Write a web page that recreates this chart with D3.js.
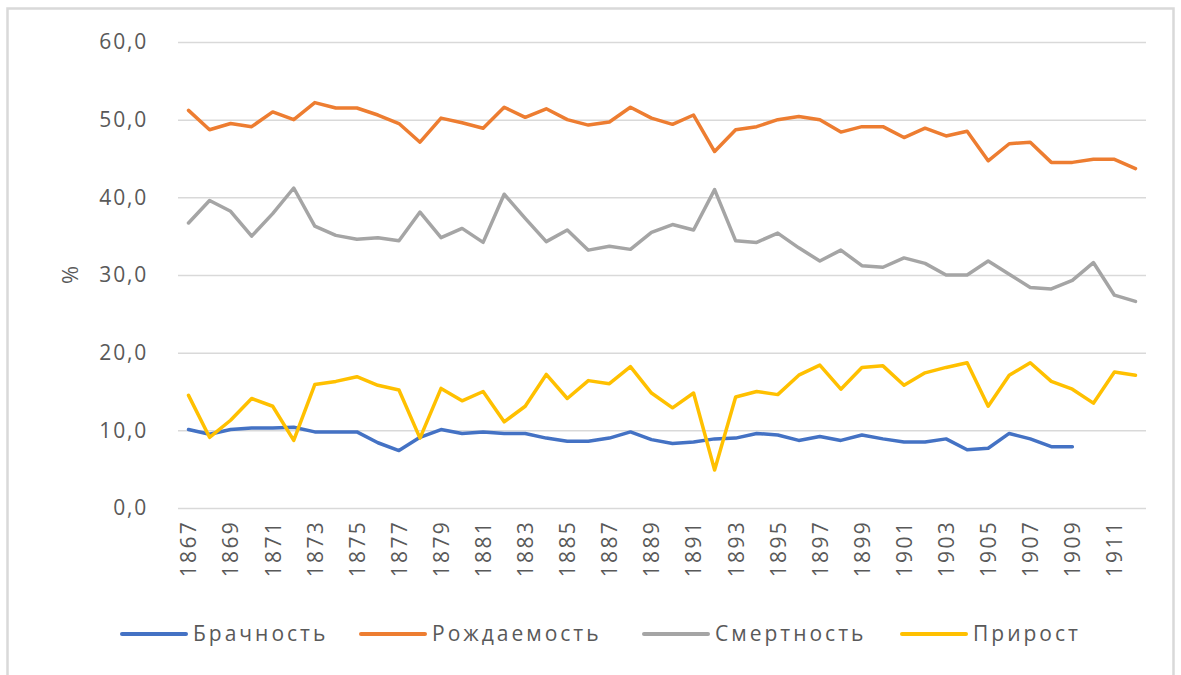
<!DOCTYPE html>
<html>
<head>
<meta charset="utf-8">
<script src="https://cdn.jsdelivr.net/npm/d3@7"></script>
<style>
    body { margin: 0; background: #fff; }
    svg text { font-family: "Open Sans", sans-serif; fill: #595959; }
</style>
</head>
<body>
<div id="chart"></div>
<script>
// годы 1867-1912
var years = d3.range(1867, 1913);

var brachnost = [10.1, 9.5, 10.1, 10.3, 10.3, 10.4, 9.8, 9.8, 9.8, 8.4,
    7.4, 9.1, 10.1, 9.6, 9.8, 9.6, 9.6, 9.0, 8.6, 8.6,
    9.0, 9.8, 8.8, 8.3, 8.5, 8.9, 9.0, 9.6, 9.4, 8.7,
    9.2, 8.7, 9.4, 8.9, 8.5, 8.5, 8.9, 7.5, 7.7, 9.6,
    8.9, 7.9, 7.9];

var rozhdaemost = [51.2, 48.7, 49.5, 49.1, 51.0, 50.0, 52.2, 51.5, 51.5, 50.6,
    49.5, 47.1, 50.2, 49.6, 48.9, 51.6, 50.3, 51.4, 50.0, 49.3,
    49.7, 51.6, 50.2, 49.4, 50.6, 45.9, 48.7, 49.1, 50.0, 50.4,
    50.0, 48.4, 49.1, 49.1, 47.7, 48.9, 47.9, 48.5, 44.7, 46.9,
    47.1, 44.5, 44.5, 44.9, 44.9, 43.7];

var smertnost = [36.7, 39.6, 38.2, 35.0, 37.9, 41.2, 36.3, 35.1, 34.6, 34.8,
    34.4, 38.1, 34.8, 36.0, 34.2, 40.4, 37.3, 34.3, 35.8, 33.2,
    33.7, 33.3, 35.5, 36.5, 35.8, 41.0, 34.4, 34.2, 35.4, 33.5,
    31.8, 33.2, 31.2, 31.0, 32.2, 31.5, 30.0, 30.0, 31.8, 30.1,
    28.4, 28.2, 29.3, 31.6, 27.4, 26.6];

var prirost = [14.5, 9.1, 11.3, 14.1, 13.1, 8.7, 15.9, 16.3, 16.9, 15.8,
    15.2, 9.0, 15.4, 13.8, 15.0, 11.1, 13.1, 17.2, 14.1, 16.4,
    16.0, 18.2, 14.8, 12.9, 14.8, 4.9, 14.3, 15.0, 14.6, 17.1,
    18.4, 15.3, 18.1, 18.3, 15.8, 17.4, 18.1, 18.7, 13.1, 17.1,
    18.7, 16.3, 15.3, 13.5, 17.5, 17.1];

var yTicks = [0, 10, 20, 30, 40, 50, 60];

var series = [
    {name: "Брачность", values: brachnost, color: "#4472C4"},
    {name: "Рождаемость", values: rozhdaemost, color: "#ED7D31"},
    {name: "Смертность", values: smertnost, color: "#A5A5A5"},
    {name: "Прирост", values: prirost, color: "#FFC000"}
];

var width = 1181, height = 675;
var margin = {top: 42, right: 35, bottom: 167, left: 178};

var svg = d3.select("#chart").append("svg")
    .attr("width", width)
    .attr("height", height);

// рамка диаграммы
svg.append("rect")
    .attr("x", 7.5).attr("y", 8.5)
    .attr("width", 1166).attr("height", 700)
    .style("fill", "none")
    .style("stroke", "#d9d9d9")
    .style("stroke-width", 2.5);

var xScale = d3.scalePoint()
    .domain(years)
    .range([margin.left, width - margin.right])
    .padding(0.5);

var yScale = d3.scaleLinear()
    .domain([0, 60])
    .range([height - margin.bottom, margin.top]);

// сетка
svg.append("g")
    .attr("class", "grid")
    .selectAll("line")
    .data(yTicks)
    .enter().append("line")
    .attr("x1", margin.left)
    .attr("x2", width - margin.right)
    .attr("y1", function(d) { return yScale(d) + 0.5; })
    .attr("y2", function(d) { return yScale(d) + 0.5; })
    .style("stroke", "#d9d9d9")
    .style("stroke-width", 1.5);

var yAxis = d3.axisLeft(yScale)
    .tickValues(yTicks)
    .tickSize(0)
    .tickPadding(30)
    .tickFormat(function(d) { return d3.format(".1f")(d).replace(".", ","); });

var yG = svg.append("g")
    .attr("transform", "translate(" + margin.left + ",0)")
    .call(yAxis);
yG.select(".domain").remove();
yG.selectAll("text")
    .style("font-size", "21px")
    .style("letter-spacing", "1.8px");

var xAxis = d3.axisBottom(xScale)
    .tickValues(years.filter(function(d, i) { return i % 2 === 0; }))
    .tickSize(0)
    .tickPadding(0);

var xG = svg.append("g")
    .attr("transform", "translate(0," + yScale(0) + ")")
    .call(xAxis);
xG.select(".domain").remove();
xG.selectAll("text")
    .attr("transform", "translate(0,12) rotate(-90)")
    .attr("x", 0).attr("y", 0).attr("dy", "0.35em")
    .style("text-anchor", "end")
    .style("font-size", "21px")
    .style("letter-spacing", "2.3px");

// подпись оси
svg.append("text")
    .attr("transform", "translate(70," + yScale(30) + ") rotate(-90)")
    .attr("dy", "0.35em")
    .style("text-anchor", "middle")
    .style("font-size", "22px")
    .text("%");

var line = d3.line()
    .x(function(d, i) { return xScale(years[i]); })
    .y(function(d) { return yScale(d); });

svg.selectAll("path.series")
    .data(series)
    .enter().append("path")
    .attr("class", "series")
    .attr("d", function(d) { return line(d.values); })
    .style("fill", "none")
    .style("stroke", function(d) { return d.color; })
    .style("stroke-width", 3.5)
    .style("stroke-linejoin", "round")
    .style("stroke-linecap", "round");

// легенда
var legendX = [122, 361, 644, 902];
var legend = svg.selectAll("g.legend")
    .data(series)
    .enter().append("g")
    .attr("class", "legend")
    .attr("transform", function(d, i) { return "translate(" + legendX[i] + ",634)"; });

legend.append("line")
    .attr("x1", 0).attr("x2", 64)
    .style("stroke", function(d) { return d.color; })
    .style("stroke-width", 4)
    .style("stroke-linecap", "round");

legend.append("text")
    .attr("x", 71)
    .attr("dy", "0.35em")
    .style("font-size", "21px")
    .style("letter-spacing", "3px")
    .text(function(d) { return d.name; });
</script>
</body>
</html>
